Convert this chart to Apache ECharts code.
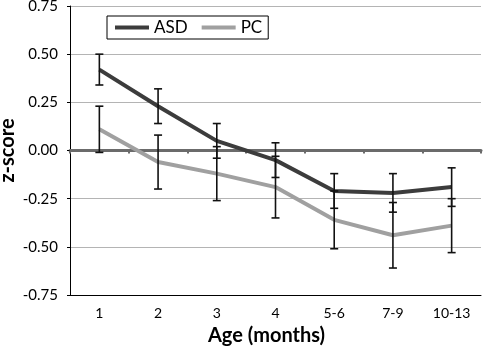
<!DOCTYPE html>
<html>
<head>
<meta charset="utf-8">
<script src="https://cdn.jsdelivr.net/npm/echarts@6/dist/echarts.min.js"></script>
<style>
html, body { margin: 0; padding: 0; background: #fff; }
#chart { width: 484px; height: 347px; }
</style>
</head>
<body>
<div id="chart"></div>
<script>
// age groups in months
var ages = ['1', '2', '3', '4', '5-6', '7-9', '10-13'];
// mean z-scores
var asd = [0.42, 0.23, 0.05, -0.05, -0.21, -0.22, -0.19];
var pc = [0.11, -0.06, -0.12, -0.19, -0.36, -0.44, -0.39];
// error bar half widths
var asdErr = [0.08, 0.09, 0.09, 0.09, 0.09, 0.10, 0.10];
var pcErr = [0.12, 0.14, 0.14, 0.16, 0.15, 0.17, 0.14];

var FONT = 'Lato';

function errData(means, errs) {
    var out = [];
    for (var i = 0; i < means.length; i++) {
        out.push([i, means[i] - errs[i], means[i] + errs[i]]);
    }
    return out;
}

function renderErr(params, api) {
    var x = api.value(0);
    var lo = api.coord([x, api.value(1)]);
    var hi = api.coord([x, api.value(2)]);
    var cap = 4;
    var style = { stroke: '#111', lineWidth: 1.6 };
    return {
        type: 'group',
        children: [
            { type: 'line', shape: { x1: hi[0], y1: hi[1], x2: lo[0], y2: lo[1] }, style: style },
            { type: 'line', shape: { x1: hi[0] - cap, y1: hi[1], x2: hi[0] + cap, y2: hi[1] }, style: style },
            { type: 'line', shape: { x1: lo[0] - cap, y1: lo[1], x2: lo[0] + cap, y2: lo[1] }, style: style }
        ]
    };
}

var myChart = echarts.init(document.getElementById('chart'));
var option = {
    animation: false,
    grid: { left: 70, right: 3, top: 6, bottom: 52, containLabel: false, outerBoundsMode: 'none' },
    legend: {
        left: 107,
        top: 16,
        padding: [3, 6, 3, 8],
        itemGap: 14,
        itemWidth: 34,
        itemHeight: 4,
        borderColor: '#000',
        borderWidth: 1,
        textStyle: { fontFamily: FONT, fontSize: 17, color: '#000' },
        data: [
            { name: 'ASD', icon: 'rect' },
            { name: 'PC', icon: 'rect' }
        ]
    },
    xAxis: [
        {
            type: 'category',
            data: ages,
            name: 'Age (months)',
            nameLocation: 'middle',
            nameGap: 31,
            nameMoveOverlap: false,
            nameTextStyle: { fontFamily: FONT, fontSize: 20, fontWeight: 'bold', color: '#000', padding: [0, 18, 0, 0] },
            axisLine: { onZero: false, lineStyle: { color: '#000', width: 1 } },
            axisTick: { show: false },
            axisLabel: { fontFamily: FONT, fontSize: 14, color: '#000', margin: 11 }
        },
        {
            type: 'category',
            data: ages,
            position: 'bottom',
            axisLine: { onZero: true, lineStyle: { color: '#6b6b6b', width: 3 } },
            axisTick: { show: true, length: 3, lineStyle: { color: '#6b6b6b', width: 2 } },
            axisLabel: { show: false }
        }
    ],
    yAxis: {
        type: 'value',
        min: -0.75,
        max: 0.75,
        interval: 0.25,
        name: 'z-score',
        nameLocation: 'middle',
        nameGap: 52,
        nameMoveOverlap: false,
        nameTextStyle: { fontFamily: FONT, fontSize: 20, fontWeight: 'bold', color: '#000' },
        axisLine: { show: true, lineStyle: { color: '#000', width: 1 } },
        axisTick: { show: true, length: 3, lineStyle: { color: '#000' } },
        axisLabel: {
            fontFamily: FONT, fontSize: 15, color: '#000', margin: 12,
            formatter: function (v) { return v.toFixed(2); }
        },
        splitLine: { lineStyle: { color: '#b4b4b4', width: 1 } }
    },
    series: [
        {
            name: 'ASD',
            type: 'line',
            data: asd,
            color: '#3c3c3c',
            symbol: 'none',
            lineStyle: { width: 4, color: '#3c3c3c' },
            z: 3
        },
        {
            name: 'PC',
            type: 'line',
            data: pc,
            color: '#a0a0a0',
            symbol: 'none',
            lineStyle: { width: 4, color: '#a0a0a0' },
            z: 2
        },
        {
            type: 'custom',
            renderItem: renderErr,
            data: errData(asd, asdErr),
            encode: { x: 0, y: [1, 2] },
            z: 5
        },
        {
            type: 'custom',
            renderItem: renderErr,
            data: errData(pc, pcErr),
            encode: { x: 0, y: [1, 2] },
            z: 5
        }
    ]
};
myChart.setOption(option);
</script>
</body>
</html>
